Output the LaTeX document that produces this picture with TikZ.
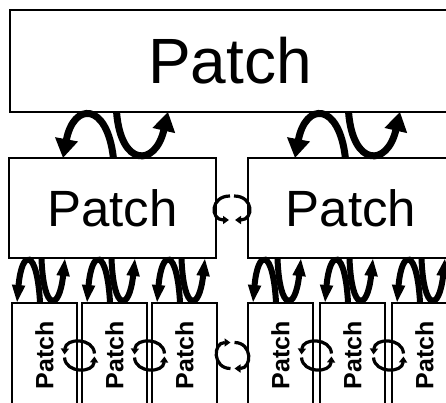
\documentclass[tikz,border=0pt]{standalone}
\usepackage{fontspec}
\setmainfont{Liberation Sans}
\usetikzlibrary{arrows.meta,calc}
\tikzset{
  box/.style={draw, fill=white, line width=2.6pt, inner sep=0pt, outer sep=0pt, rectangle},
  bigarrow/.style={line width=7pt, -{Triangle[width=22pt,length=19pt]}},
  smallarrow/.style={line width=6pt, -{Triangle[width=12pt,length=18pt]}},
  xarrow/.style={line width=3.2pt, -{Triangle[width=8pt,length=6pt]}},
  ovalx/.pic={
    \draw[xarrow] (15,-2) .. controls (14,-18) and (-14,-18) .. (-15,-1);
    \draw[xarrow] (-15,2) .. controls (-14,18) and (14,18) .. (15,1);
  },
  ringx/.pic={
    \draw[xarrow] (-2,13) .. controls (-20,13) and (-20,-13) .. (-2,-13);
    \draw[xarrow] (2,-13) .. controls (20,-13) and (20,13) .. (2,13);
  },
  midx/.pic={
    \draw[xarrow] (-2,-12) .. controls (-22,-12) and (-22,12) .. (-3,12);
    \draw[xarrow] (2,-12) .. controls (22,-12) and (22,12) .. (3,12);
  },
}
\newcommand{\patchmotif}[4]{%
  \begin{scope}[shift={#1}, xscale=#2, yscale=-#3]
    \draw[#4] (0.48,0) .. controls (0.42,1.22) and (0.1,1.22) .. (0,0);
    \draw[#4] (0.51,1) .. controls (0.55,-0.2) and (0.88,-0.2) .. (1,1);
  \end{scope}}
\newcommand{\bigtxt}{\fontsize{64}{70}\selectfont}
\newcommand{\midtxt}{\fontsize{51}{56}\selectfont}
\newcommand{\smalltxt}{\fontsize{25}{28}\selectfont\bfseries}
\begin{document}
\begin{tikzpicture}[x=1pt,y=-1pt]
\useasboundingbox (0,0) rectangle (446,403);
\clip (0,0) rectangle (446,403);
\fill[white] (0,0) rectangle (446,403);
% boxes
\node[box, minimum width=440pt, minimum height=102pt] (top) at (230,61) {\bigtxt Patch};
\node[box, minimum width=207pt, minimum height=100pt] (m1) at (112.5,208) {\midtxt Patch};
\node[box, minimum width=206pt, minimum height=100pt] (m2) at (351,208) {\midtxt Patch};
\foreach \i/\x in {1/44.5, 2/114.5, 3/184.5, 4/280.5, 5/352.5, 6/424.5}{
  \node[box, minimum width=65pt, minimum height=105pt] (b\i) at (\x,355.5) {\rotatebox{90}{\smalltxt Patch}};
}
% top to middle
\patchmotif{([xshift=54pt]m1.north west)}{105}{46}{bigarrow}
\patchmotif{([xshift=47pt]m2.north west)}{105}{46}{bigarrow}
% middle to bottom
\foreach \i in {1,...,6}{
  \patchmotif{([xshift=5pt]b\i.north west)}{48}{45}{smallarrow}
}
% horizontal exchanges
\pic at ($(m1.east)!0.5!(m2.west)$) {midx};
\pic at ($(b3.east)!0.5!(b4.west)$) {ringx};
\pic at ($(b1.east)!0.5!(b2.west)$) {ovalx};
\pic at ($(b2.east)!0.5!(b3.west)$) {ovalx};
\pic at ($(b4.east)!0.5!(b5.west)$) {ovalx};
\pic at ($(b5.east)!0.5!(b6.west)$) {ovalx};
\end{tikzpicture}
\end{document}
